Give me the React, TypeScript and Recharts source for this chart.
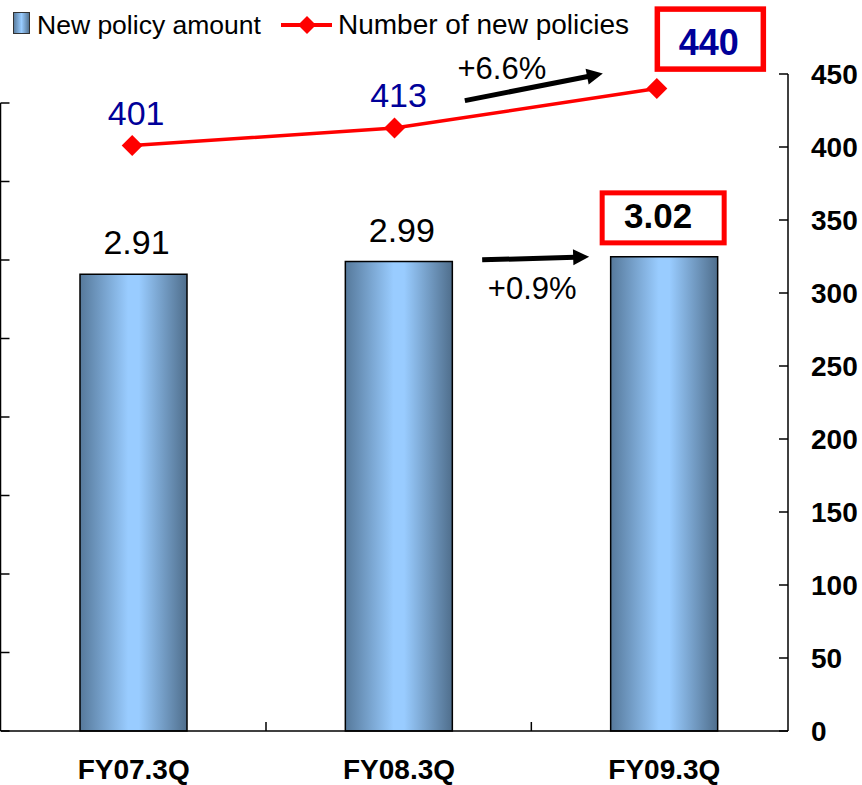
import React from 'react';
import { ComposedChart, Bar, Line, XAxis, YAxis, Legend, LabelList } from 'recharts';

// values
const categories = ['FY07.3Q', 'FY08.3Q', 'FY09.3Q'];
const policyAmount = [2.91, 2.99, 3.02];
const policyCount = [401, 413, 440];
const amountTicks = [0, 0.5, 1, 1.5, 2, 2.5, 3, 3.5, 4];
const countTicks = [0, 50, 100, 150, 200, 250, 300, 350, 400, 450];
const countGrowth = '+6.6%';
const amountGrowth = '+0.9%';

const data = categories.map((name, i) => ({ name, amount: policyAmount[i], count: policyCount[i] }));

const W = 862;
const H = 785;
const PLOT_TOP = 74;
const PLOT_BOTTOM = 731;
const BAND_HALF = 133;
// left axis tops out at 4.0 a bit below the plot top
const LEFT_MAX = 4 * (PLOT_BOTTOM - PLOT_TOP) / (PLOT_BOTTOM - 103);

const FONT = "Arial, 'Liberation Sans', sans-serif";
const NAVY = '#000099';
const RED = '#ff0000';

function Arrow({ x1, y1, x2, y2 }: { x1: number; y1: number; x2: number; y2: number }) {
  const dx = x2 - x1;
  const dy = y2 - y1;
  const len = Math.sqrt(dx * dx + dy * dy);
  const ux = dx / len;
  const uy = dy / len;
  const head = 16;
  const half = 8;
  const bx = x2 - ux * head;
  const by = y2 - uy * head;
  const pts = `${x2},${y2} ${bx - uy * half},${by + ux * half} ${bx + uy * half},${by - ux * half}`;
  return (
    <g>
      <line x1={x1} y1={y1} x2={bx + ux * 2} y2={by + uy * 2} stroke="#000" strokeWidth={5} />
      <polygon points={pts} fill="#000" />
    </g>
  );
}

function BarLabel(props: any) {
  const { x, y, width, value, index } = props;
  const cx = x + width / 2;
  const txt = Number(value).toFixed(2);
  if (index === 2) {
    return (
      <g>
        <rect x={cx - 62} y={y - 64} width={122} height={50} fill="#fff" stroke={RED} strokeWidth={5} />
        <text x={cx - 6} y={y - 29} textAnchor="middle" fontSize={35} fontWeight="bold" fontFamily={FONT} fill="#000">{txt}</text>
        <Arrow x1={cx - 182} y1={y + 3} x2={cx - 75} y2={y} />
        <text x={cx - 132} y={y + 42} textAnchor="middle" fontSize={31} fontFamily={FONT} fill="#000">{amountGrowth}</text>
      </g>
    );
  }
  return (
    <text x={cx + 3} y={y - 20} textAnchor="middle" fontSize={34} fontFamily={FONT} fill="#000">{txt}</text>
  );
}

function LineLabel(props: any) {
  const { x, y, value, index } = props;
  if (index === 2) {
    return (
      <g>
        <rect x={x + 0.5} y={y - 79.5} width={106} height={60} fill="#fff" stroke={RED} strokeWidth={5.5} />
        <text x={x + 52} y={y - 34} textAnchor="middle" fontSize={36} fontWeight="bold" fontFamily={FONT} fill={NAVY}>{value}</text>
        <Arrow x1={x - 192} y1={y + 12} x2={x - 54} y2={y - 15} />
        <text x={x - 155} y={y - 10} textAnchor="middle" fontSize={31} fontFamily={FONT} fill="#000">{countGrowth}</text>
      </g>
    );
  }
  return (
    <text x={x + 4} y={y - 21} textAnchor="middle" fontSize={34} fontFamily={FONT} fill={NAVY}>{value}</text>
  );
}

function Diamond(props: any) {
  const { cx, cy, index } = props;
  const r = 10.5;
  return <polygon key={index} points={`${cx},${cy - r} ${cx + r},${cy} ${cx},${cy + r} ${cx - r},${cy}`} fill={RED} />;
}

function LeftTick(props: any) {
  const { x, y, payload } = props;
  const ax = x - 0.5;
  return (
    <g>
      <line x1={ax} x2={ax + 9} y1={y} y2={y} stroke="#000" strokeWidth={1.5} />
      {payload.value === 4 && <line x1={ax} x2={ax} y1={y} y2={PLOT_BOTTOM} stroke="#000" strokeWidth={1.5} />}
    </g>
  );
}

function RightTick(props: any) {
  const { x, y, payload } = props;
  return (
    <g>
      <line x1={x - 9} x2={x} y1={y} y2={y} stroke="#000" strokeWidth={1.5} />
      <text x={x + 23} y={y + 10} fontSize={28} fontWeight="bold" fontFamily={FONT} fill="#000">{payload.value}</text>
    </g>
  );
}

function XTick(props: any) {
  const { x, y, payload, index } = props;
  return (
    <g>
      {index > 0 && <line x1={x - BAND_HALF} x2={x - BAND_HALF} y1={y - 9} y2={y} stroke="#000" strokeWidth={1.5} />}
      <text x={x} y={y + 48} textAnchor="middle" fontSize={28} fontWeight="bold" fontFamily={FONT} fill="#000">{payload.value}</text>
    </g>
  );
}

function LegendContent() {
  return (
    <svg width={660} height={50} style={{ display: 'block' }}>
      <defs>
        <linearGradient id="legendGrad" x1="0" y1="0" x2="1" y2="0">
          <stop offset="0%" stopColor="#56799b" />
          <stop offset="50%" stopColor="#99ccff" />
          <stop offset="100%" stopColor="#4f6e8c" />
        </linearGradient>
      </defs>
      <rect x={13.5} y={12.5} width={16} height={21} fill="url(#legendGrad)" stroke="#333" strokeWidth={1} />
      <text x={37} y={34} fontSize={26.5} fontFamily={FONT} fill="#000">New policy amount</text>
      <line x1={281} x2={332} y1={25} y2={25} stroke={RED} strokeWidth={4} />
      <polygon points="307,16 316,25 307,34 298,25" fill={RED} />
      <text x={338} y={34} fontSize={28} fontFamily={FONT} fill="#000">Number of new policies</text>
    </svg>
  );
}

export default function App() {
  return (
    <div style={{ position: 'absolute', left: 0, top: 0, width: W, height: H, background: '#fff' }}>
      <ComposedChart width={W} height={H} data={data} margin={{ top: PLOT_TOP, right: 0, bottom: 0, left: 0 }}>
        <defs>
          <linearGradient id="barGrad" x1="0" y1="0" x2="1" y2="0">
            <stop offset="0%" stopColor="#56799b" />
            <stop offset="45%" stopColor="#99ccff" />
            <stop offset="55%" stopColor="#99ccff" />
            <stop offset="100%" stopColor="#4f6e8c" />
          </linearGradient>
        </defs>
        <XAxis
          xAxisId="bars"
          dataKey="name"
          height={H - PLOT_BOTTOM}
          interval={0}
          tickLine={false}
          tickSize={0}
          tickMargin={0}
          tick={XTick}
          axisLine={{ stroke: '#000', strokeWidth: 1.5 }}
          padding={{ left: 0, right: -9 }}
        />
        {/* the line markers sit on a slightly narrower spacing than the bars */}
        <XAxis xAxisId="line" dataKey="name" hide padding={{ left: 0, right: 0 }} />
        <YAxis
          yAxisId="left"
          orientation="left"
          width={1}
          domain={[0, LEFT_MAX]}
          ticks={amountTicks}
          tickLine={false}
          tickSize={0}
          tickMargin={0}
          axisLine={false}
          tick={LeftTick}
        />
        <YAxis
          yAxisId="right"
          orientation="right"
          width={W - 788}
          domain={[0, 450]}
          ticks={countTicks}
          tickLine={false}
          tickSize={0}
          tickMargin={0}
          axisLine={{ stroke: '#000', strokeWidth: 1.5 }}
          tick={RightTick}
        />
        <Legend
          layout="horizontal"
          verticalAlign="middle"
          align="center"
          content={<LegendContent />}
          wrapperStyle={{ top: 0, left: 0, width: 660, height: 50 }}
        />
        <Bar
          xAxisId="bars"
          yAxisId="left"
          dataKey="amount"
          name="New policy amount"
          barSize={107}
          fill="url(#barGrad)"
          stroke="#000"
          strokeWidth={1.5}
          isAnimationActive={false}
        >
          <LabelList dataKey="amount" content={BarLabel} />
        </Bar>
        <Line
          xAxisId="line"
          yAxisId="right"
          dataKey="count"
          name="Number of new policies"
          stroke={RED}
          strokeWidth={3.5}
          dot={Diamond}
          activeDot={false}
          isAnimationActive={false}
        >
          <LabelList dataKey="count" content={LineLabel} />
        </Line>
      </ComposedChart>
    </div>
  );
}
